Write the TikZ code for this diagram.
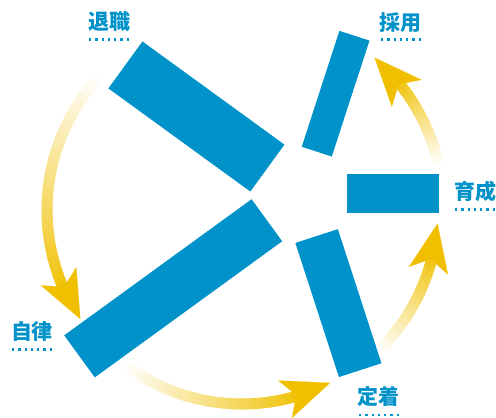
\documentclass[tikz,border=0pt]{standalone}
\usepackage{fontspec}
\newfontfamily\cjk{Noto Sans CJK JP}
\usetikzlibrary{arrows.meta,calc}
\definecolor{barblue}{RGB}{0,146,200}
\definecolor{gold}{RGB}{240,192,0}
\newcommand\gradarc[4]{%
  \foreach \i in {0,...,39}{%
    \pgfmathsetmacro\ta{#3+(#4-#3)*\i/40}%
    \pgfmathsetmacro\tb{#3+(#4-#3)*min(\i+1.5,40)/40}%
    \pgfmathsetmacro\pp{100*(\i+0.5)/40}%
    \draw[line width=11pt, color=gold!\pp!white] (#1) ++(\ta:#2) arc[start angle=\ta, end angle=\tb, radius=#2];
  }}
\begin{document}
\begin{tikzpicture}[x=1pt,y=-1pt,
  bar/.style={fill=barblue, draw=none, inner sep=0pt, outer sep=0pt},
  lbl/.style={text=barblue, font=\cjk\bfseries\fontsize{21}{21}\selectfont, inner sep=0pt},
  dots/.style={draw=barblue, line width=2.4pt, dash pattern=on 2.4pt off 3.85pt},
  headtip/.style={draw=gold, fill=gold, line width=0.1pt, -{Stealth[length=48pt,width=40pt,inset=12pt]}}
]
\useasboundingbox (0,0) rectangle (496,418);
\coordinate (O) at (242,210);

% gradient arcs
\gradarc{O}{195}{223}{154}
\gradarc{O}{194}{127}{71}
\gradarc{O}{196}{45.5}{12}
\gradarc{O}{202}{-13}{-41}

% arrow heads
\coordinate (Abase) at ($(O)+(160:195)$);
\coordinate (Atip)  at ($(O)+(146:195)$);
\coordinate (Bbase) at ($(O)+(77:194)$);
\coordinate (Btip)  at ($(O)+(63:194)$);
\coordinate (Cbase) at ($(O)+(18:196)$);
\coordinate (Ctip)  at ($(O)+(4:196)$);
\coordinate (Dbase) at ($(O)+(-35:202)$);
\coordinate (Dtip)  at ($(O)+(-49:202)$);
\draw[headtip] (Abase) -- (Atip);
\draw[headtip] (Bbase) -- (Btip);
\draw[headtip] (Cbase) -- (Ctip);
\draw[headtip] (Dbase) -- (Dtip);

% bars
\node[bar, minimum width=175.5pt, minimum height=58pt, rotate=-36] (b1) at (196.4,116.5) {};
\node[bar, minimum width=121.9pt, minimum height=31.6pt, rotate=72] (b2) at (335.6,93.7) {};
\node[bar, minimum width=91.4pt, minimum height=39.3pt] (b3) at (393,193.7) {};
\node[bar, minimum width=141pt, minimum height=44.7pt, rotate=-72] (b4) at (338.4,303.1) {};
\node[bar, minimum width=231.6pt, minimum height=52pt, rotate=36] (b5) at (173.2,288.3) {};

% labels
\node[lbl] (l1) at (109,22) {退職};
\node[lbl] (l2) at (400.5,22.5) {採用};
\node[lbl] (l3) at (475.5,191.5) {育成};
\node[lbl] (l4) at (32,332) {自律};
\node[lbl] (l5) at (378.5,397) {定着};

\draw[dots] (89,39.3) -- (129,39.3);
\draw[dots] (381,39.5) -- (421,39.5);
\draw[dots] (455,209.5) -- (495,209.5);
\draw[dots] (12,349.5) -- (52,349.5);
\draw[dots] (359,415) -- (399,415);
\end{tikzpicture}
\end{document}
